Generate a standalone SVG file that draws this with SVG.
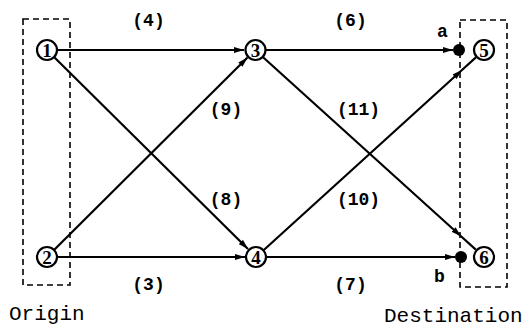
<svg xmlns="http://www.w3.org/2000/svg" width="525" height="328" viewBox="0 0 525 328">
<style>
.edge{fill:none;stroke:#000;stroke-width:2.2}
.node circle{fill:#fff;stroke:#000;stroke-width:2.2}
.node text{font-family:"Liberation Serif",serif;font-weight:bold;font-size:19px;text-anchor:middle}
.box{fill:none;stroke:#000;stroke-width:1.6;stroke-dasharray:6,4}
.lbl{font-family:"Liberation Mono",monospace;font-weight:bold;font-size:18px;text-anchor:middle}
.cap{font-family:"Liberation Mono",monospace;font-size:21px}
</style>
<defs>
<marker id="arr" viewBox="0 0 10 6" markerWidth="10" markerHeight="6" refX="10" refY="3" orient="auto" markerUnits="userSpaceOnUse">
<path d="M0,0 L10,3 L0,6 Z" fill="#000"/>
</marker>
</defs>
<rect class="box" x="23" y="19" width="47" height="266"/>
<rect class="box" x="460" y="20" width="47" height="267"/>
<g id="connectors">
<path class="edge" d="M57,50 L244,50" marker-end="url(#arr)"/>
<path class="edge" d="M57,257 L245,257" marker-end="url(#arr)"/>
<path class="edge" d="M54,57 L248,249" marker-end="url(#arr)"/>
<path class="edge" d="M54,250 L247.5,57.5" marker-end="url(#arr)"/>
<path class="edge" d="M266,50 L453,50" marker-end="url(#arr)"/>
<path class="edge" d="M267,257 L455,257" marker-end="url(#arr)"/>
<path class="edge" d="M262.8,57 L461,236.2 L475.8,249.6" marker-mid="url(#arr)"/>
<path class="edge" d="M263.8,250 L462,70 L475.9,57.4" marker-mid="url(#arr)"/>
<circle cx="459" cy="50" r="6" fill="#000"/>
<circle cx="461" cy="257" r="6" fill="#000"/>
</g>
<g id="n1" class="node"><circle cx="47" cy="50" r="10"/><text x="47" y="56.5">1</text></g>
<g id="n2" class="node"><circle cx="47" cy="257" r="10"/><text x="47" y="263.5">2</text></g>
<g id="n3" class="node"><circle cx="255.5" cy="50" r="10"/><text x="255.5" y="56.5">3</text></g>
<g id="n4" class="node"><circle cx="256" cy="257" r="10"/><text x="256" y="263.5">4</text></g>
<g id="n5" class="node"><circle cx="484" cy="50" r="10"/><text x="484" y="56.5">5</text></g>
<g id="n6" class="node"><circle cx="484" cy="257" r="10"/><text x="484" y="263.5">6</text></g>
<g id="labels">
<text class="lbl" x="148.5" y="26">(4)</text>
<text class="lbl" x="350.5" y="26">(6)</text>
<text class="lbl" x="226" y="115">(9)</text>
<text class="lbl" x="358.5" y="115">(11)</text>
<text class="lbl" x="226" y="205">(8)</text>
<text class="lbl" x="358.5" y="205">(10)</text>
<text class="lbl" x="148.5" y="290">(3)</text>
<text class="lbl" x="350.5" y="290">(7)</text>
<text class="lbl" x="442.5" y="37">a</text>
<text class="lbl" x="439.5" y="282">b</text>
<text class="cap" x="9" y="320">Origin</text>
<text class="cap" x="384" y="322">Destination</text>
</g>
</svg>
